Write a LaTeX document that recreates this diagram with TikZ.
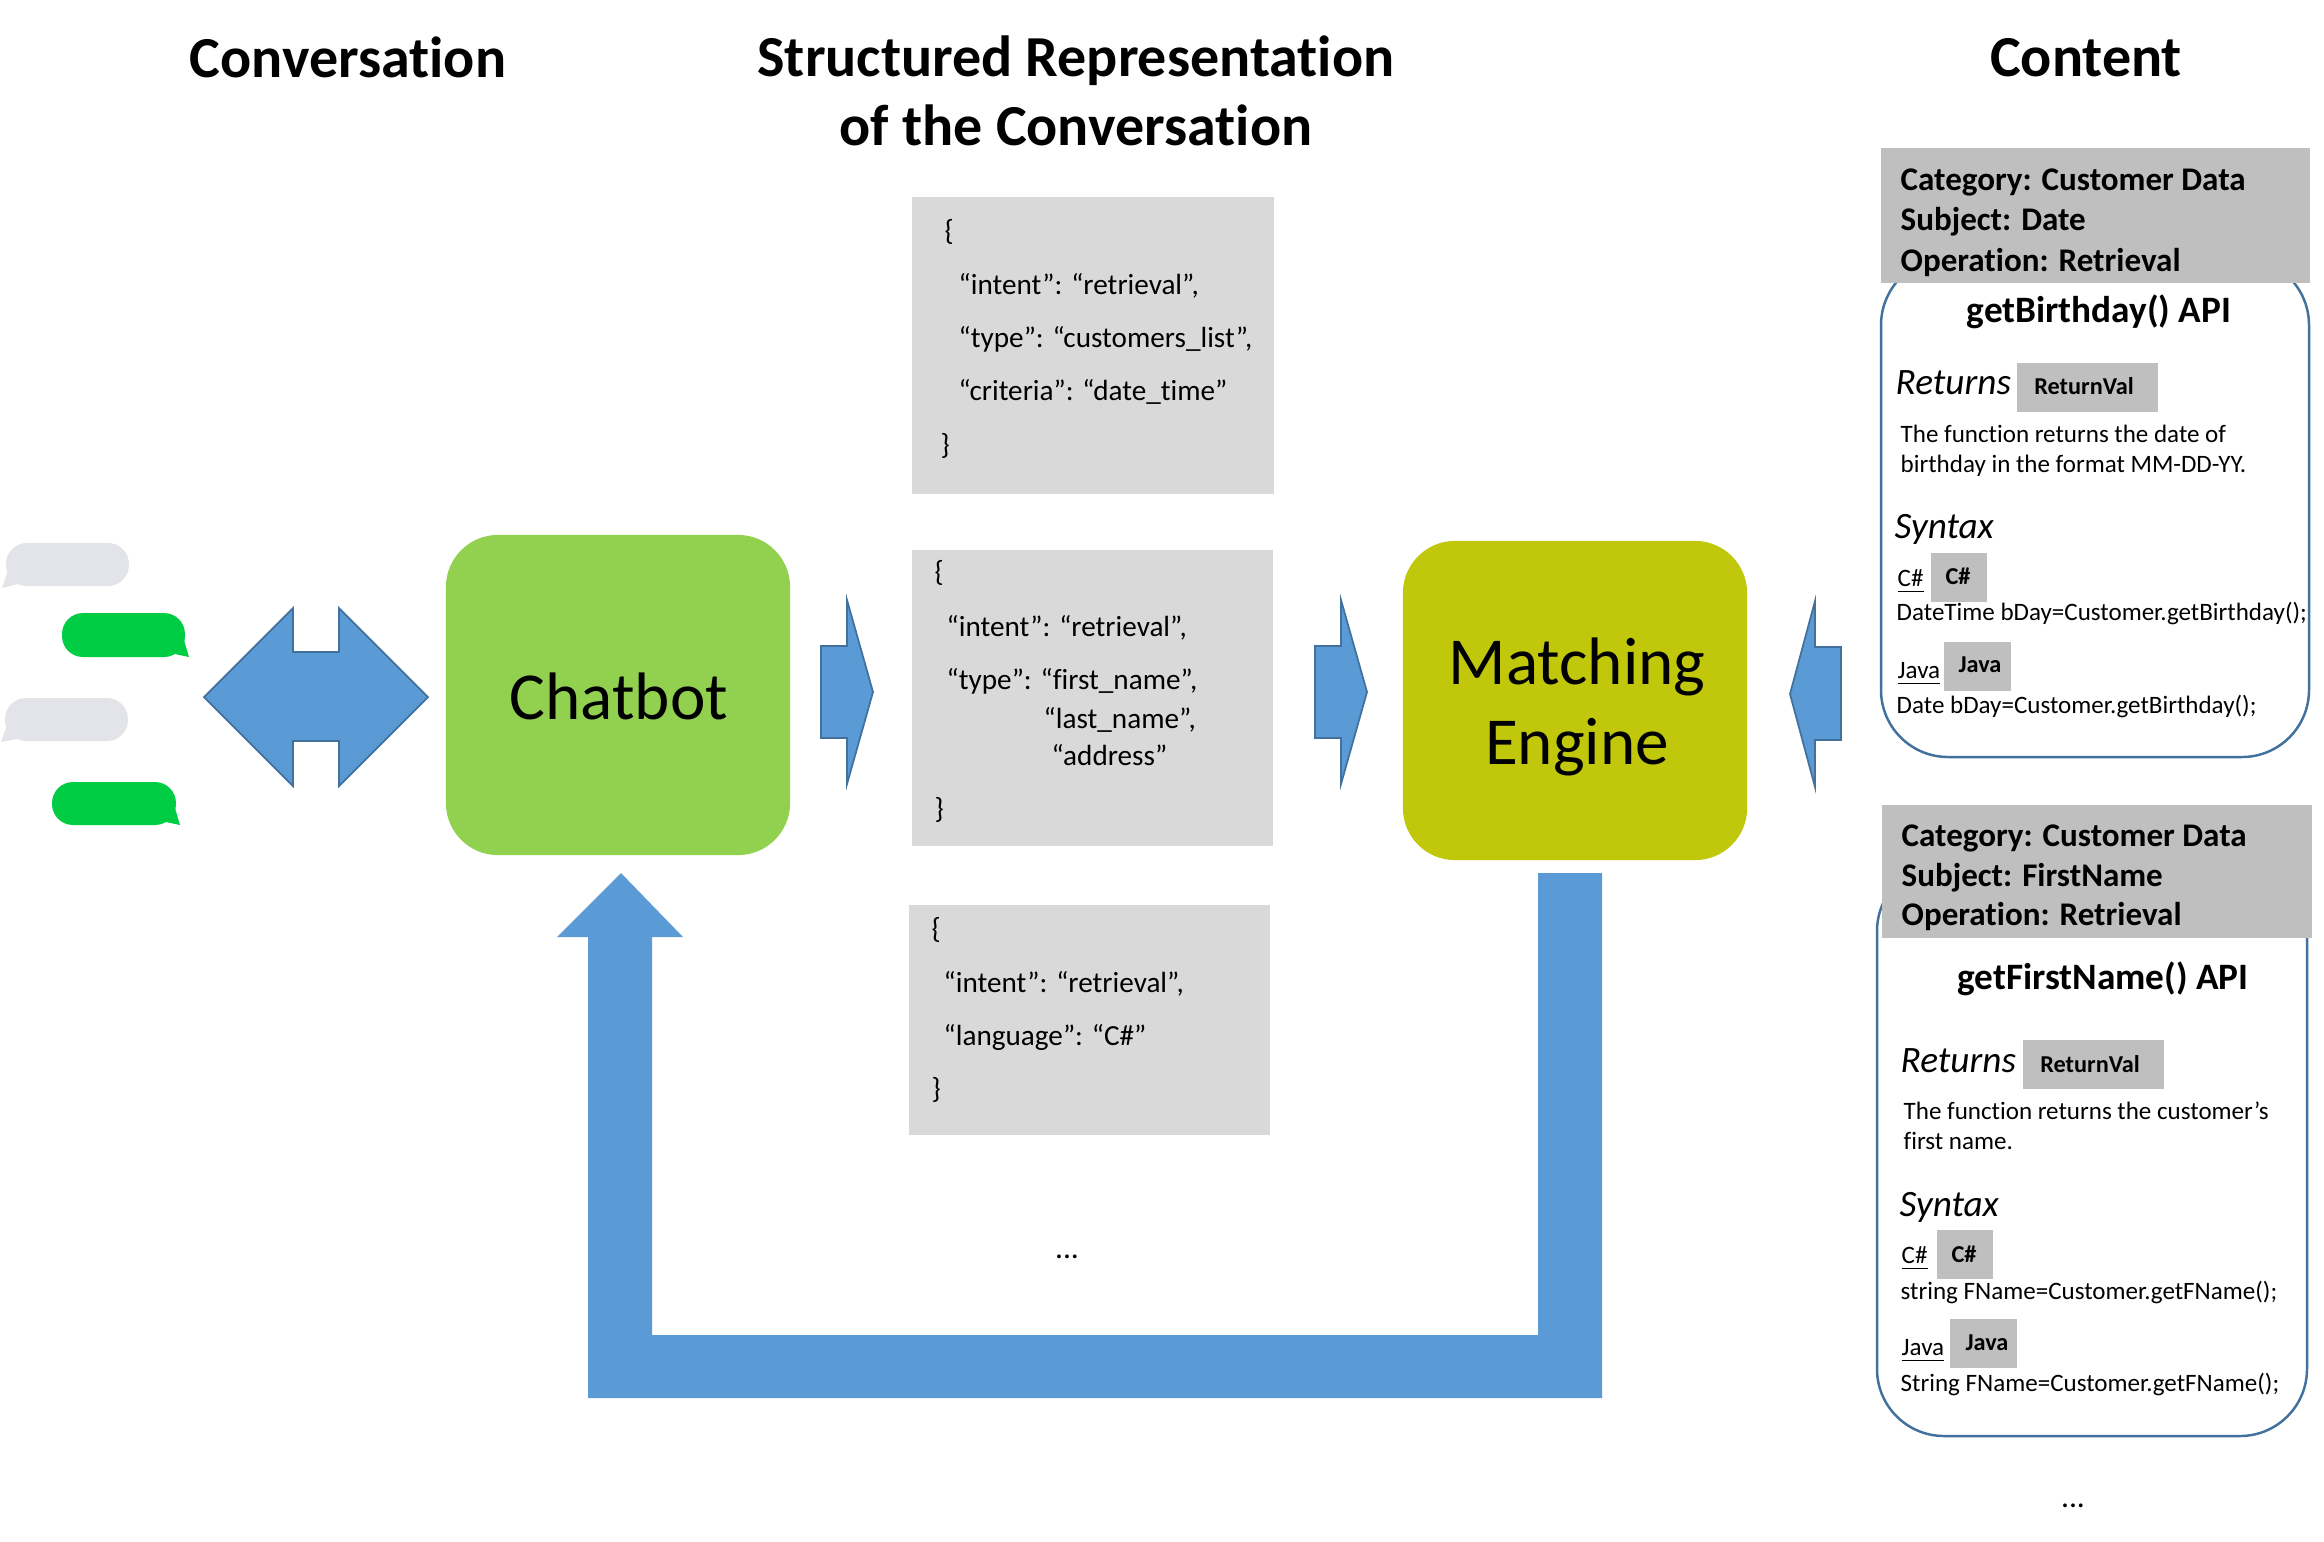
\documentclass[tikz,border=0pt]{standalone}
\usepackage{fontspec}
\setmainfont[Ligatures=NoCommon]{Carlito}
\usepackage{xcolor}
\usetikzlibrary{positioning}
\definecolor{arrowblue}{HTML}{5B9BD5}
\definecolor{arrowedge}{HTML}{41719C}
\definecolor{panelblue}{HTML}{41719C}
\definecolor{chatgreen}{HTML}{92D050}
\definecolor{enginegreen}{HTML}{C1C70A}
\definecolor{jsongray}{HTML}{D9D9D9}
\definecolor{taggray}{HTML}{BFBFBF}
\definecolor{bubblegray}{HTML}{E3E3EA}
\definecolor{bubblegreen}{HTML}{00CC44}
\newcommand{\fsize}[1]{\fontsize{#1pt}{#1pt}\selectfont}

\begin{document}
\begin{tikzpicture}[x=0.01cm,y=-0.01cm,
  heading/.style={inner sep=0pt,align=center,font=\fsize{16.5}\bfseries},
  blockbox/.style={rounded corners=0.52cm,minimum width=3.44cm,minimum height=3.2cm,inner sep=0pt},
  blocktext/.style={inner sep=0pt,align=center,font=\fsize{19.1}},
  jsonline/.style={anchor=mid west,inner sep=0pt,font=\fsize{8.3}},
  blockarrow/.style={fill=arrowblue,draw=arrowedge,line width=0.5pt},
  panelbox/.style={draw=panelblue,line width=0.7pt,rounded corners=0.67cm},
  metaline/.style={anchor=mid west,inner sep=0pt,font=\fsize{9.4}\bfseries},
  apititle/.style={inner sep=0pt,font=\fsize{10.6}\bfseries},
  sectionline/.style={anchor=mid west,inner sep=0pt,font=\fsize{10.6}\itshape},
  bodyline/.style={anchor=mid west,inner sep=0pt,font=\fsize{7.12}},
  tagtext/.style={inner sep=0pt,font=\fsize{6.9}\bfseries}]
  \useasboundingbox (0,0) rectangle (2324,1541);

  % headings
  \node[heading] (convtitle) at (348,57) {Conversation};
  \node[heading] (reprtitle) at (1076,91) {Structured Representation\\[3.05pt]of the Conversation};
  \node[heading] (conttitle) at (2086,58) {Content};

  % chat bubbles
  \fill[bubblegray,rounded corners=0.21cm] (6,543) rectangle (129,586);
  \fill[bubblegray] (8,570) -- (2,588) -- (22,583) -- cycle;
  \fill[bubblegreen,rounded corners=0.21cm] (62,613) rectangle (185,657);
  \fill[bubblegreen] (184,640) -- (189,657) -- (170,653) -- cycle;
  \fill[bubblegray,rounded corners=0.21cm] (5,698) rectangle (128,741);
  \fill[bubblegray] (7,725) -- (1,742) -- (21,738) -- cycle;
  \fill[bubblegreen,rounded corners=0.21cm] (52,782) rectangle (176,825);
  \fill[bubblegreen] (175,808) -- (180,825) -- (161,821) -- cycle;

  % block arrows
  \draw[blockarrow] (204,697) -- (293,608) -- (293,652) -- (339,652) -- (339,608) -- (428,697)
    -- (339,786) -- (339,741) -- (293,741) -- (293,786) -- cycle;
  \draw[blockarrow] (821,646) -- (847,646) -- (847,600) -- (873,692) -- (847,784) -- (847,738) -- (821,738) -- cycle;
  \draw[blockarrow] (1315,646) -- (1341,646) -- (1341,600) -- (1367,692) -- (1341,784) -- (1341,738) -- (1315,738) -- cycle;
  \draw[blockarrow] (1841,647) -- (1815,647) -- (1815,601) -- (1790,694) -- (1815,787) -- (1815,740) -- (1841,740) -- cycle;
  \fill[arrowblue] (621,873) -- (683,937) -- (652,937) -- (652,1335) -- (1538,1335) -- (1538,873)
    -- (1602,873) -- (1602,1398) -- (588,1398) -- (588,937) -- (557,937) -- cycle;

  % engine blocks
  \node[blockbox,fill=chatgreen] (chatbot) at (618,695) {};
  \node[blocktext] (chatbottext) at (619,696) {Chatbot};
  \node[blockbox,fill=enginegreen,minimum height=3.19cm] (engine) at (1575,700.5) {};
  \node[blocktext] (enginetext) at (1577,707) {Matching\\[3.7pt]Engine};

  % structured conversation
  \fill[jsongray] (912,197) rectangle (1274,494);
  \foreach \tx/\ty/\txt in {944/232/\{,958/286/{“intent”: “retrieval”,},958/339/{“type”: “customers\_list”,},958/392/“criteria”: “date\_time”,940/446/\}}
    \node[jsonline] at (\tx,\ty) {\txt};
  \fill[jsongray] (912,550) rectangle (1273,846);
  \foreach \tx/\ty/\txt in {934/573/\{,946/628/{“intent”: “retrieval”,},946/681/{“type”: “first\_name”,},1043/720/{“last\_name”,},1051/757/“address”,934/810/\}}
    \node[jsonline] at (\tx,\ty) {\txt};
  \fill[jsongray] (909,905) rectangle (1270,1135);
  \foreach \tx/\ty/\txt in {931/930/\{,943/984/{“intent”: “retrieval”,},943/1037/“language”: “C\#”,931/1090/\}}
    \node[jsonline] at (\tx,\ty) {\txt};
  \node[inner sep=0pt,font=\fsize{9}] (jsondots) at (1067,1257) {...};

  % first content panel
  \draw[panelbox,fill=white] (1881,258) rectangle (2309,757);
  \fill[taggray] (1881,148) rectangle (2310,283);
  \node[metaline] (catone) at (1900,182) {Category: Customer Data};
  \node[metaline] (subone) at (1900,222) {Subject: Date};
  \node[metaline] (opone) at (1900,263) {Operation: Retrieval};
  \node[apititle] (apione) at (2099,312) {getBirthday() API};
  \fill[taggray] (2017,363) rectangle (2158,412);
  \node[tagtext] at (2084,386) {ReturnVal};
  \node[sectionline] at (1895,386) {Returns};
  \node[bodyline] at (1900,434) {The function returns the date of};
  \node[bodyline] at (1900,464) {birthday in the format MM-DD-YY.};
  \node[sectionline] at (1894,530) {Syntax};
  \node[bodyline] at (1897,578) {\underline{C\#}};
  \fill[taggray] (1931,553) rectangle (1987,602);
  \node[tagtext] at (1958,576) {C\#};
  \node[bodyline] at (1896,612) {DateTime bDay=Customer.getBirthday();};
  \node[bodyline] at (1897,670) {\underline{Java}};
  \fill[taggray] (1944,642) rectangle (2011,691);
  \node[tagtext] at (1980,665) {Java};
  \node[bodyline] at (1896,705) {Date bDay=Customer.getBirthday();};

  % second content panel
  \draw[panelbox,fill=white] (1877,864) rectangle (2307,1436);
  \fill[taggray] (1882,805) rectangle (2312,938);
  \node[metaline] (cattwo) at (1901,838) {Category: Customer Data};
  \node[metaline] (subtwo) at (1901,878) {Subject: FirstName};
  \node[metaline] (optwo) at (1901,917) {Operation: Retrieval};
  \node[apititle] (apitwo) at (2103,979) {getFirstName() API};
  \fill[taggray] (2023,1040) rectangle (2164,1089);
  \node[tagtext] at (2090,1064) {ReturnVal};
  \node[sectionline] at (1900,1064) {Returns};
  \node[bodyline] at (1903,1111) {The function returns the customer’s};
  \node[bodyline] at (1903,1141) {first name.};
  \node[sectionline] at (1899,1208) {Syntax};
  \node[bodyline] at (1901,1255) {\underline{C\#}};
  \fill[taggray] (1937,1230) rectangle (1993,1279);
  \node[tagtext] at (1964,1254) {C\#};
  \node[bodyline] at (1900,1291) {string FName=Customer.getFName();};
  \node[bodyline] at (1901,1347) {\underline{Java}};
  \fill[taggray] (1950,1319) rectangle (2017,1368);
  \node[tagtext] at (1987,1343) {Java};
  \node[bodyline] at (1900,1383) {String FName=Customer.getFName();};
  \node[inner sep=0pt,font=\fsize{9}] (contdots) at (2073,1506) {...};
\end{tikzpicture}
\end{document}
